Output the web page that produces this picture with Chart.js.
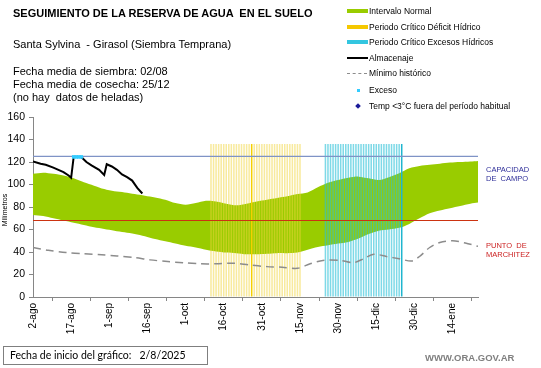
<!DOCTYPE html>
<html>
<head>
<meta charset="utf-8">
<script src="https://cdn.jsdelivr.net/npm/chart.js@4"></script>
<style>
  body { margin: 0; background: #fff; }
  #marco { position: relative; width: 541px; height: 368px; overflow: hidden; font-family: 'Liberation Sans', Arial, sans-serif; color: #000; }
  #grafico { position: absolute; left: 0; top: 0; }
  .t { position: absolute; white-space: pre; }
  .ley { position: absolute; left: 369px; font-size: 8.5px; line-height: 10px; white-space: pre; }
  .muestra { position: absolute; left: 347px; width: 21px; }
</style>
</head>
<body>
<div id="marco">
  <canvas id="grafico" width="541" height="368"></canvas>

  <div class="t" style="left:13px; top:6px; font-size:11px; font-weight:bold; line-height:14px;">SEGUIMIENTO DE LA RESERVA DE AGUA  EN EL SUELO</div>
  <div class="t" style="left:13px; top:37px; font-size:11px; line-height:14px;">Santa Sylvina  - Girasol (Siembra Temprana)</div>
  <div class="t" style="left:13px; top:65px; font-size:11px; line-height:13px;">Fecha media de siembra: 02/08
Fecha media de cosecha: 25/12
(no hay  datos de heladas)</div>

  <!-- leyenda -->
  <div class="muestra" style="top:9px; height:4px; background:#99cc00;"></div>
  <div class="ley" style="top:6px;">Intervalo Normal</div>
  <div class="muestra" style="top:25px; height:4px; background:#f5c800;"></div>
  <div class="ley" style="top:22px;">Periodo Crítico Déficit Hídrico</div>
  <div class="muestra" style="top:40px; height:4px; background:#33c6e0;"></div>
  <div class="ley" style="top:37px;">Periodo Crítico Excesos Hídricos</div>
  <div class="muestra" style="top:57px; height:2px; background:#000;"></div>
  <div class="ley" style="top:53px;">Almacenaje</div>
  <div class="muestra" style="top:73px; height:0; width:20px; border-top:1.5px dashed #8c8c8c;"></div>
  <div class="ley" style="top:68px;">Mínimo histórico</div>
  <div class="muestra" style="top:89px; left:357px; width:3px; height:3px; background:#33ccff;"></div>
  <div class="ley" style="top:85px;">Exceso</div>
  <div class="muestra" style="top:104px; left:356px; width:4px; height:4px; background:#1a1a99; transform:rotate(45deg);"></div>
  <div class="ley" style="top:101px;">Temp &lt;3°C fuera del período habitual</div>

  <!-- etiquetas laterales -->
  <div class="t" style="left:486px; top:166px; font-size:7.5px; line-height:8.5px; color:#2e2e99;">CAPACIDAD
DE  CAMPO</div>
  <div class="t" style="left:486px; top:242px; font-size:7.5px; line-height:8.5px; color:#cc2222;">PUNTO  DE
MARCHITEZ</div>
  <div class="t" style="left:-12px; top:206px; font-size:7px; line-height:8px; transform:rotate(-90deg); width:34px; text-align:center;">Milímetros</div>

  <div class="t" style="left:3px; top:346px; width:205px; height:19px; border:1px solid #7f7f7f; box-sizing:border-box; font-family:Lato, 'Open Sans', sans-serif; font-size:10.5px; line-height:17px; padding-left:6px;">Fecha de inicio del gráfico:   2/8/2025</div>
  <div class="t" style="left:425px; top:352px; font-size:9.5px; font-weight:bold; line-height:12px; color:#808080;">WWW.ORA.GOV.AR</div>
</div>

<script>
// eje X en días desde el 2-ago
const etiquetasX = ['2-ago', '17-ago', '1-sep', '16-sep', '1-oct', '16-oct', '31-oct', '15-nov', '30-nov', '15-dic', '30-dic', '14-ene'];
const pasoDias = 15;
const diaFinal = 175;

// Almacenaje (día, mm)
const almacenaje = [[0, 120.5], [3, 118.5], [5, 117.5], [8, 115], [10, 113], [12, 111], [14, 108], [15, 106],
    [16, 124.5], [19, 124.5], [21, 120], [23, 117], [26, 113], [28, 108.5], [29, 118], [31, 116], [33, 113],
    [35, 109], [37, 106.5], [39, 103.5], [41, 97], [43, 92]];

// Exceso
const exceso = [[16, 124.5], [17, 124.5], [18, 124.5], [19, 124.5]];

// Intervalo normal: límites superior e inferior
const diasIntervalo = [0, 4, 8, 12, 16, 20, 24, 28, 32, 36, 40, 44, 48, 52, 56, 60, 64, 68, 72, 76, 80, 84, 88, 92,
    96, 100, 104, 108, 112, 116, 120, 124, 128, 132, 136, 140, 144, 148, 152, 156, 160, 164, 168, 172, 175];
const intervaloSuperior = [109.5, 110.5, 109.5, 108, 105.5, 102, 99, 96, 94, 93, 91.5, 90, 88.5, 86.5, 83.5, 82,
    83.5, 85.5, 85, 83, 81.5, 83, 85, 86.5, 88, 89.5, 91.5, 93, 97.5, 101.5, 104, 106, 107, 105.5, 104, 106.5,
    110, 114.5, 116.5, 117.5, 118.5, 119.5, 120, 120.5, 121];
const intervaloInferior = [73, 72, 70, 68, 66, 64, 62, 60.5, 59, 57.5, 56, 54, 51.5, 49.5, 47.5, 45.5, 44, 42,
    40.5, 39.5, 39, 38, 38, 38.5, 39, 39, 39.5, 42, 44.5, 46, 47.5, 49, 52, 56, 59, 60, 61.5, 65, 70, 74.5, 77,
    79, 81, 83, 84];

// Mínimo histórico (día, mm)
const minimoHistorico = [[0, 44], [6, 41.5], [13, 39.5], [20, 38.5], [27, 37.5], [33, 36.5], [40, 35], [46, 33],
    [53, 31.5], [59, 30.5], [66, 29.5], [72, 29.5], [79, 30], [85, 28.5], [92, 27], [98, 26.5], [104, 25.5],
    [109, 29.5], [114, 32.5], [121, 32.5], [126, 30.5], [130, 34], [134, 38], [139, 36], [144, 34], [149, 32],
    [152, 36], [156, 44], [160, 48.5], [165, 50], [170, 48], [175, 45]];

const capacidadCampo = 125;
const puntoMarchitez = 68;

// Periodos críticos (día inicio, día fin)
const periodoDeficit = [70, 105];
const periodoExcesos = [115, 145];
const alturaPeriodo = 136;
const diasResaltados = [86, 145];

const aPuntos = pares => pares.map(p => ({ x: p[0], y: p[1] }));

function barrasPeriodo(periodo, color, colorFuerte) {
    const datos = [];
    const colores = [];
    for (let d = periodo[0]; d <= periodo[1]; d++) {
        datos.push({ x: d, y: alturaPeriodo });
        colores.push(diasResaltados.includes(d) ? colorFuerte : color);
    }
    return { datos, colores };
}

const deficit = barrasPeriodo(periodoDeficit, 'rgba(242, 214, 60, 0.5)', '#f5d000');
const excesos = barrasPeriodo(periodoExcesos, 'rgba(40, 192, 215, 0.6)', '#1fb5cf');

const colorEje = '#868686';

new Chart(document.getElementById('grafico'), {
    type: 'line',
    data: {
        datasets: [
            {
                label: 'Almacenaje',
                data: aPuntos(almacenaje),
                borderColor: '#000',
                borderWidth: 2,
                pointRadius: 0,
                tension: 0,
                order: 1
            },
            {
                label: 'Exceso',
                data: aPuntos(exceso),
                showLine: false,
                pointStyle: 'rect',
                pointRadius: 2.5,
                pointBackgroundColor: '#33ccff',
                pointBorderWidth: 0,
                order: 0
            },
            {
                label: 'Capacidad de campo',
                data: [{ x: 0, y: capacidadCampo }, { x: diaFinal, y: capacidadCampo }],
                borderColor: '#7f93c6',
                borderWidth: 1.2,
                pointRadius: 0,
                order: 2
            },
            {
                label: 'Punto de marchitez',
                data: [{ x: 0, y: puntoMarchitez }, { x: diaFinal, y: puntoMarchitez }],
                borderColor: '#cc3311',
                borderWidth: 1.2,
                pointRadius: 0,
                order: 2
            },
            {
                label: 'Mínimo histórico',
                data: aPuntos(minimoHistorico),
                borderColor: '#8c8c8c',
                borderWidth: 1.5,
                borderDash: [8, 5],
                pointRadius: 0,
                tension: 0.3,
                order: 3
            },
            {
                type: 'bar',
                label: 'Periodo Crítico Déficit Hídrico',
                data: deficit.datos,
                backgroundColor: deficit.colores,
                barPercentage: 0.6,
                categoryPercentage: 1,
                grouped: false,
                order: 4
            },
            {
                type: 'bar',
                label: 'Periodo Crítico Excesos Hídricos',
                data: excesos.datos,
                backgroundColor: excesos.colores,
                barPercentage: 0.6,
                categoryPercentage: 1,
                grouped: false,
                order: 4
            },
            {
                label: 'Intervalo Normal',
                data: diasIntervalo.map((d, i) => ({ x: d, y: intervaloSuperior[i] })),
                borderWidth: 0,
                borderColor: 'rgba(0,0,0,0)',
                backgroundColor: '#99cc00',
                pointRadius: 0,
                tension: 0.3,
                fill: '+1',
                order: 6
            },
            {
                label: 'Intervalo inferior',
                data: diasIntervalo.map((d, i) => ({ x: d, y: intervaloInferior[i] })),
                borderWidth: 0,
                borderColor: 'rgba(0,0,0,0)',
                pointRadius: 0,
                tension: 0.3,
                fill: false,
                order: 7
            }
        ]
    },
    options: {
        responsive: false,
        animation: false,
        devicePixelRatio: 1,
        layout: { padding: { top: 117, right: 63, bottom: 0, left: 0 } },
        plugins: {
            legend: { display: false },
            tooltip: { enabled: false }
        },
        scales: {
            x: {
                type: 'linear',
                min: 0,
                max: diaFinal,
                offset: false,
                border: { color: colorEje },
                grid: { drawOnChartArea: false, drawTicks: true, tickLength: 4, color: colorEje },
                ticks: {
                    stepSize: pasoDias,
                    autoSkip: false,
                    includeBounds: false,
                    minRotation: 90,
                    maxRotation: 90,
                    padding: 2,
                    color: '#000',
                    font: { family: "'Liberation Sans', Arial, sans-serif", size: 10 },
                    callback: v => etiquetasX[v / pasoDias] ?? ''
                },
                afterFit: s => { s.height = 71; }
            },
            y: {
                min: 0,
                max: 160,
                border: { color: colorEje },
                grid: { drawOnChartArea: false, drawTicks: true, tickLength: 4, color: colorEje },
                ticks: {
                    stepSize: 20,
                    padding: 4,
                    color: '#000',
                    font: { family: "'Liberation Sans', Arial, sans-serif", size: 10.5 }
                },
                afterFit: s => { s.width = 33; }
            }
        }
    }
});
</script>
</body>
</html>
